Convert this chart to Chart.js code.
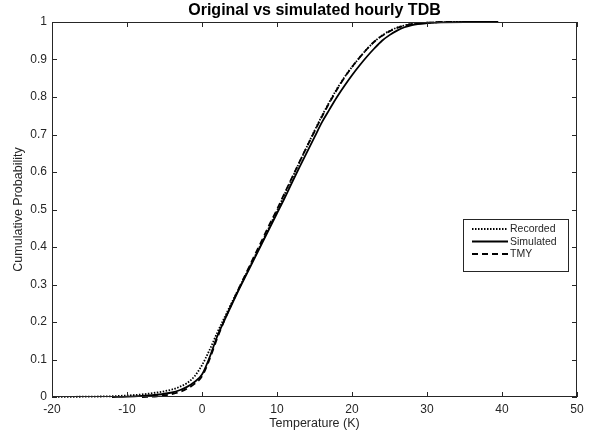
<!DOCTYPE html>
<html lang="en">
<head>
    <meta charset="UTF-8">
    <title>Original vs simulated hourly TDB</title>
    <style>
        html, body { margin: 0; padding: 0; background: #fff; }
        #cdfChart { width: 592px !important; height: 434px !important; display: block; }
    </style>
    <script src="https://cdn.jsdelivr.net/npm/chart.js"></script>
</head>
<body>
    <canvas id="cdfChart" width="592" height="434"></canvas>
    <script>
        // CDF values
        const recordedT = [-20, -15, -12, -10, -8, -6, -4, -3, -2, -1, 0, 1, 2, 3, 4, 5, 6, 7, 8, 9, 10, 11, 12, 13, 14, 15, 16, 17, 18, 19, 20, 21, 22, 23, 24, 25, 26, 27, 28, 30, 33, 35];
        const recordedP = [0, 0.001, 0.002, 0.004, 0.007, 0.012, 0.02, 0.027, 0.037, 0.055, 0.085, 0.125, 0.17, 0.212, 0.253, 0.293, 0.333, 0.373, 0.413, 0.455, 0.497, 0.54, 0.583, 0.626, 0.668, 0.71, 0.75, 0.787, 0.822, 0.853, 0.88, 0.905, 0.928, 0.948, 0.964, 0.976, 0.985, 0.991, 0.995, 0.998, 1, 1];

        const simulatedT = [-12, -10, -8, -6, -4, -3, -2, -1, 0, 1, 2, 3, 4, 5, 6, 7, 8, 9, 10, 11, 12, 13, 14, 15, 16, 17, 18, 19, 20, 21, 22, 23, 24, 25, 26, 27, 28, 30, 32, 35, 39.5];
        const simulatedP = [0, 0.001, 0.003, 0.006, 0.012, 0.018, 0.027, 0.04, 0.06, 0.105, 0.16, 0.205, 0.248, 0.29, 0.33, 0.37, 0.41, 0.45, 0.49, 0.53, 0.572, 0.613, 0.653, 0.693, 0.733, 0.767, 0.8, 0.83, 0.858, 0.884, 0.908, 0.93, 0.95, 0.965, 0.977, 0.986, 0.992, 0.997, 0.999, 1, 1];

        const tmyT = [-8, -6, -4, -3, -2, -1, 0, 1, 2, 3, 4, 5, 6, 7, 8, 9, 10, 11, 12, 13, 14, 15, 16, 17, 18, 19, 20, 21, 22, 23, 24, 25, 26, 27, 28, 30, 32, 34];
        const tmyP = [0, 0.002, 0.008, 0.013, 0.022, 0.035, 0.055, 0.1, 0.155, 0.205, 0.25, 0.293, 0.335, 0.377, 0.418, 0.46, 0.5, 0.543, 0.585, 0.627, 0.668, 0.708, 0.748, 0.785, 0.82, 0.852, 0.88, 0.905, 0.928, 0.948, 0.963, 0.975, 0.984, 0.99, 0.995, 0.998, 1, 1];

        const seriesNames = ['Recorded', 'Simulated', 'TMY'];
        const xTicks = [-20, -10, 0, 10, 20, 30, 40, 50];
        const yTicks = [0, 0.1, 0.2, 0.3, 0.4, 0.5, 0.6, 0.7, 0.8, 0.9, 1];

        const axisColor = '#262626';
        const fontFamily = '"Liberation Sans", Arial, Helvetica, sans-serif';

        function toPoints(xs, ys) {
            return xs.map((x, i) => ({ x: x, y: ys[i] }));
        }

        const dashes = [[1.5, 1.5], [], [6, 4]];

        // Box, inward ticks, legend and title, MATLAB style
        const matlabFrame = {
            id: 'matlabFrame',
            afterDatasetsDraw(chart) {
                const { ctx, chartArea: a, scales: { x, y } } = chart;
                ctx.save();
                ctx.strokeStyle = axisColor;
                ctx.lineWidth = 1;
                ctx.setLineDash([]);
                ctx.strokeRect(a.left + 0.5, a.top + 0.5, a.right - a.left - 1, a.bottom - a.top - 1);

                const tl = 5;
                ctx.beginPath();
                xTicks.forEach(v => {
                    const px = Math.round(x.getPixelForValue(v)) + 0.5;
                    ctx.moveTo(px, a.bottom); ctx.lineTo(px, a.bottom - tl);
                    ctx.moveTo(px, a.top); ctx.lineTo(px, a.top + tl);
                });
                yTicks.forEach(v => {
                    const py = Math.round(y.getPixelForValue(v)) + 0.5;
                    ctx.moveTo(a.left, py); ctx.lineTo(a.left + tl, py);
                    ctx.moveTo(a.right, py); ctx.lineTo(a.right - tl, py);
                });
                ctx.stroke();

                // legend
                const lx = 463, ly = 219, lw = 105, lh = 52;
                ctx.fillStyle = '#fff';
                ctx.fillRect(lx, ly, lw, lh);
                ctx.strokeStyle = axisColor;
                ctx.lineWidth = 1;
                ctx.strokeRect(lx + 0.5, ly + 0.5, lw, lh);
                ctx.font = '10.5px ' + fontFamily;
                ctx.textBaseline = 'middle';
                ctx.textAlign = 'left';
                const rows = [229, 241.5, 254];
                seriesNames.forEach((name, i) => {
                    ctx.strokeStyle = '#000';
                    ctx.lineWidth = 1.8;
                    ctx.setLineDash(dashes[i]);
                    ctx.beginPath();
                    ctx.moveTo(472, rows[i]);
                    ctx.lineTo(508, rows[i]);
                    ctx.stroke();
                    ctx.fillStyle = axisColor;
                    ctx.fillText(name, 510, rows[i] + 0.5);
                });

                // title
                ctx.setLineDash([]);
                ctx.fillStyle = '#000';
                ctx.font = 'bold 16px ' + fontFamily;
                ctx.textAlign = 'center';
                ctx.fillText('Original vs simulated hourly TDB', (a.left + a.right) / 2, 11);
                ctx.restore();
            }
        };

        const ctx = document.getElementById('cdfChart').getContext('2d');
        const chart = new Chart(ctx, {
            type: 'scatter',
            data: {
                datasets: [
                    { label: seriesNames[0], data: toPoints(recordedT, recordedP), borderDash: dashes[0] },
                    { label: seriesNames[1], data: toPoints(simulatedT, simulatedP), borderDash: dashes[1] },
                    { label: seriesNames[2], data: toPoints(tmyT, tmyP), borderDash: dashes[2] }
                ].map(d => Object.assign(d, {
                    showLine: true,
                    borderColor: '#000',
                    borderWidth: 1.8,
                    pointRadius: 0,
                    cubicInterpolationMode: 'monotone',
                    clip: false
                }))
            },
            options: {
                responsive: false,
                animation: false,
                devicePixelRatio: 1,
                layout: { padding: { top: 22, right: 15, bottom: 0, left: 0 } },
                plugins: {
                    legend: { display: false },
                    tooltip: { enabled: false }
                },
                scales: {
                    x: {
                        type: 'linear',
                        min: -20,
                        max: 50,
                        afterFit: s => { s.height = 37; },
                        afterBuildTicks: s => { s.ticks = xTicks.map(v => ({ value: v })); },
                        grid: { display: false, drawTicks: false, tickLength: 0 },
                        border: { display: false },
                        ticks: {
                            color: axisColor,
                            font: { family: fontFamily, size: 12 },
                            padding: 5,
                            maxRotation: 0,
                            autoSkip: false
                        },
                        title: {
                            display: true,
                            text: 'Temperature (K)',
                            color: axisColor,
                            font: { family: fontFamily, size: 12.5 },
                            padding: { top: 0, bottom: 3 }
                        }
                    },
                    y: {
                        min: 0,
                        max: 1,
                        afterFit: s => { s.width = 52; },
                        afterBuildTicks: s => { s.ticks = yTicks.map(v => ({ value: v })); },
                        grid: { display: false, drawTicks: false, tickLength: 0 },
                        border: { display: false },
                        ticks: {
                            color: axisColor,
                            font: { family: fontFamily, size: 12 },
                            padding: 5,
                            autoSkip: false,
                            callback: v => String(Math.round(v * 10) / 10)
                        },
                        title: {
                            display: true,
                            text: 'Cumulative Probability',
                            color: axisColor,
                            font: { family: fontFamily, size: 12.5 },
                            padding: { top: 11, bottom: 0 }
                        }
                    }
                }
            },
            plugins: [matlabFrame]
        });
    </script>
</body>
</html>
